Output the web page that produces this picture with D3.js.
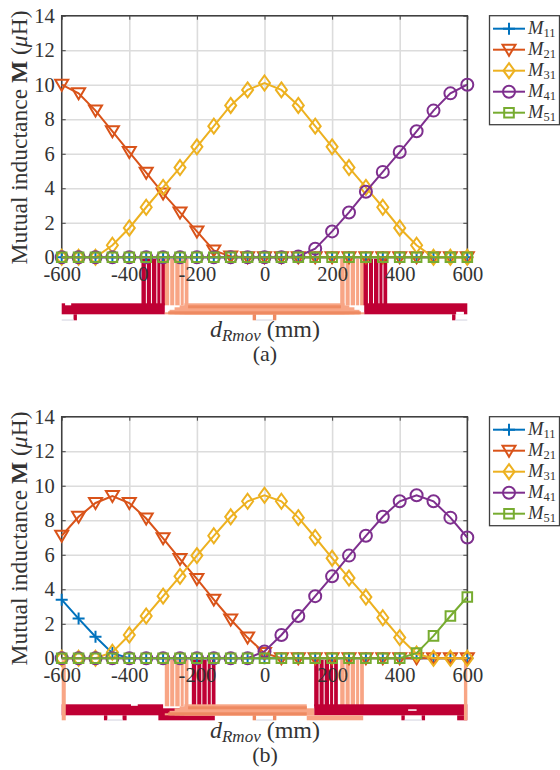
<!DOCTYPE html>
<html>
<head>
<meta charset="utf-8">
<script src="https://cdn.jsdelivr.net/npm/d3@7"></script>
<style>
html, body { margin: 0; padding: 0; background: #fff; }
svg { display: block; }
text { font-family: "Liberation Serif", serif; fill: #333; }
</style>
</head>
<body>
<div id="chart"></div>
<script>
const positions = [-600,-550,-500,-450,-400,-350,-300,-250,-200,-150,-100,-50,0,50,100,150,200,250,300,350,400,450,500,550,600]

const a11 = [0,0,0,0,0,0,0,0,0,0,0,0,0,0,0,0,0,0,0,0,0,0,0,0,0]
const a21 = [10,9.5,8.5,7.3,6.1,4.9,3.7,2.6,1.5,0.4,0.05,0,0,0,0,0,0,0,0,0,0,0,0,0,0]
const a31 = [0,0,0,0.7,1.7,2.9,4.05,5.2,6.4,7.6,8.8,9.7,10.1,9.7,8.8,7.6,6.4,5.2,4.05,2.9,1.7,0.7,0,0,0]
const a41 = [0,0,0,0,0,0,0,0,0,0,0,0,0,0,0.05,0.5,1.5,2.6,3.8,4.95,6.1,7.3,8.5,9.5,10]
const a51 = [0,0,0,0,0,0,0,0,0,0,0,0,0,0,0,0,0,0,0,0,0,0,0,0,0]

const b11 = [3.4,2.3,1.25,0.3,0,0,0,0,0,0,0,0,0,0,0,0,0,0,0,0,0,0,0,0,0]
const b21 = [7.1,8.2,9,9.4,9,8.1,6.95,5.75,4.6,3.4,2.25,1.2,0.3,0,0,0,0,0,0,0,0,0,0,0,0]
const b31 = [0,0,0,0.35,1.35,2.45,3.6,4.75,5.95,7.1,8.2,9.1,9.45,9.1,8.15,7,5.8,4.65,3.55,2.35,1.2,0.25,0,0,0]
const b41 = [0,0,0,0,0,0,0,0,0,0,0,0,0.4,1.35,2.45,3.6,4.75,5.95,7.1,8.2,9.1,9.45,9.1,8.15,7]
const b51 = [0,0,0,0,0,0,0,0,0,0,0,0,0,0,0,0,0,0,0,0,0,0.3,1.3,2.45,3.55]

const seriesNames = ['11','21','31','41','51']
const seriesColors = ['#0072BD','#D95319','#EDB120','#7E2F8E','#77AC30']
const seriesMarks = ['plus','tri','diamond','circle','square']

const xTicks = [-600,-400,-200,0,200,400,600]
const yTicks = [0,2,4,6,8,10,12,14]

// coil sketch under the axis: colour, x from, x to (mm), depth from, depth to
const crimson = '#BF0034'
const salmon = '#EE8A62'
const pale = '#F8A585'
const barSteps = [[0,13],[16,28],[31,44],[47,56],[59,70]]

const coilA = [
  [crimson,-600,-295,46,57],[crimson,295,600,46,57],
  [crimson,-565,-555,57,63],[crimson,555,565,57,63],
  [pale,-295,295,55,57],[pale,-281,281,52.5,57],[pale,-266,266,50,57],[pale,-251,251,48,57],[pale,-237,237,46,57],
  [salmon,-285,285,54,57],[salmon,-226,226,48,51],
  [salmon,-35,-25,57,63],[salmon,25,35,57,63],
  ['#e2e2ea',-600,-565,62,63.5],['#e2e2ea',565,600,62,63.5],['#e2e2ea',-25,25,62,63.5],
  ['#fff',-590,-572,45.5,48],['#fff',567,590,54.5,57.5]
]
const barsA = [[crimson,-364],[pale,-295],[pale,224],[crimson,293]]

const coilB = [
  [crimson,-600,-300,46,57],[crimson,-314,-147,50,62],
  [crimson,147,600,46,57],
  [pale,125,292,57,62],[pale,125,147,50,57],[crimson,570,600,57,62],
  [pale,-295,125,55,57],[pale,-281,125,52.5,57],[pale,-266,125,50,57],[pale,-251,125,48,57],[pale,-237,125,46,57],
  [salmon,-285,125,54,57],[salmon,-226,125,48,51],
  [crimson,-475,-465,57,62],[crimson,-420,-408,57,62],[crimson,405,415,57,62],[crimson,465,475,57,62],
  [salmon,-35,-25,57,62],[salmon,25,35,57,62],
  ['#e2e2ea',-465,-420,61,62.5],['#e2e2ea',415,465,61,62.5],['#e2e2ea',-25,25,61,62.5],
  [pale,-600,-588,2,62],[pale,590,600,2,62],
  ['#fff',-395,-375,45.5,47.5],['#fff',425,450,51,52.5]
]
const barsB = [[crimson,-215],[pale,-295],[crimson,147],[pale,224]]

const width = 560
const height = 770
const plotLeft = 61.7
const plotRight = 467.3

const svg = d3.select('#chart').append('svg')
  .attr('width', width)
  .attr('height', height)

const x = d3.scaleLinear().domain([-600, 600]).range([plotLeft, plotRight])

function drawMark(g, kind, color) {
  const sym = (t) => g.append('path').attr('d', t).attr('fill', 'none').attr('stroke', color).attr('stroke-width', 2)
  if (kind === 'plus') sym('M-6,0H6M0,-6V6')
  if (kind === 'tri') sym('M-6.5,-5H6.5L0,6Z')
  if (kind === 'diamond') sym('M0,-7.5L5.5,0L0,7.5L-5.5,0Z')
  if (kind === 'circle') sym('M6,0A6,6 0 1 1 -6,0A6,6 0 1 1 6,0Z')
  if (kind === 'square') sym('M-4.8,-4.8H4.8V4.8H-4.8Z')
}

function drawPanel(top, zero, values, coil, bars, letter) {
  const y = d3.scaleLinear().domain([0, 14]).range([zero, top])
  const depth = d3.scaleLinear().domain([0, 70]).range([zero, zero + 70])
  const panel = svg.append('g')

  // grid
  panel.append('g').attr('transform', `translate(${plotLeft},0)`)
    .call(d3.axisLeft(y).tickValues(yTicks).tickSize(-(plotRight - plotLeft)).tickFormat(''))
    .call(g => g.select('.domain').remove())
    .selectAll('line').attr('stroke', '#dcdcdc').attr('stroke-width', 1.6)
  panel.append('g').attr('transform', `translate(0,${zero})`)
    .call(d3.axisBottom(x).tickValues(xTicks).tickSize(-(zero - top)).tickFormat(''))
    .call(g => g.select('.domain').remove())
    .selectAll('line').attr('stroke', '#dcdcdc').attr('stroke-width', 1.6)

  // coil
  const rects = []
  bars.forEach(b => barSteps.forEach(s => rects.push([b[0], b[1] + s[0], b[1] + s[1], 1.5, 48])))
  coil.forEach(c => rects.push(c))
  panel.append('g').selectAll('rect')
    .data(rects)
    .enter()
    .append('rect')
    .attr('x', d => x(d[1]))
    .attr('width', d => x(d[2]) - x(d[1]))
    .attr('y', d => depth(d[3]))
    .attr('height', d => depth(d[4]) - depth(d[3]))
    .attr('fill', d => d[0])

  // box and ticks
  panel.append('path')
    .attr('d', `M${plotLeft},${zero}V${top}H${plotRight}V${zero}`)
    .attr('fill', 'none').attr('stroke', '#404040').attr('stroke-width', 1.5)
  panel.append('g').attr('transform', `translate(${plotLeft},0)`)
    .call(d3.axisLeft(y).tickValues(yTicks).tickSize(-4).tickPadding(7))
    .call(g => g.select('.domain').remove())
    .call(g => g.selectAll('line').attr('stroke', '#404040'))
    .call(g => g.selectAll('text').style('font-size', '20.5px').attr('font-family', null).attr('fill', '#333'))
  panel.append('g').attr('transform', `translate(${plotRight},0)`)
    .call(d3.axisRight(y).tickValues(yTicks).tickSize(-4).tickFormat(''))
    .call(g => g.select('.domain').remove())
    .selectAll('line').attr('stroke', '#404040')
  panel.append('g').attr('transform', `translate(0,${top})`)
    .call(d3.axisTop(x).tickValues(xTicks).tickSize(-4).tickFormat(''))
    .call(g => g.select('.domain').remove())
    .selectAll('line').attr('stroke', '#404040')
  panel.append('g').attr('transform', `translate(0,${zero})`)
    .call(d3.axisBottom(x).tickValues(xTicks).tickSize(0).tickPadding(9).tickFormat(d => String(d)))
    .call(g => g.select('.domain').remove())
    .call(g => g.selectAll('text').style('font-size', '20.5px').attr('font-family', null).attr('fill', '#333'))

  // series
  const line = d3.line().x((d, i) => x(positions[i])).y(d => y(d))
  values.forEach((v, i) => {
    panel.append('path').datum(v)
      .attr('d', line)
      .attr('fill', 'none')
      .attr('stroke', seriesColors[i])
      .attr('stroke-width', 2)
    v.forEach((d, j) => {
      const g = panel.append('g').attr('transform', `translate(${x(positions[j])},${y(d)})`)
      drawMark(g, seriesMarks[i], seriesColors[i])
    })
  })

  // labels
  const yLabel = panel.append('text')
    .attr('transform', `translate(27,${(top + zero) / 2 + 1}) rotate(-90)`)
    .attr('text-anchor', 'middle')
    .style('font-size', '23.5px')
  yLabel.append('tspan').text('Mutual inductance ')
  yLabel.append('tspan').attr('font-weight', 'bold').text('M')
  yLabel.append('tspan').text(' (')
  yLabel.append('tspan').attr('font-style', 'italic').text('μ')
  yLabel.append('tspan').text('H)')

  const xLabel = panel.append('text')
    .attr('x', 265)
    .attr('y', zero + 80)
    .attr('text-anchor', 'middle')
    .style('font-size', '24px')
  xLabel.append('tspan').attr('font-style', 'italic').text('d')
  xLabel.append('tspan').attr('font-style', 'italic').attr('dy', 4).style('font-size', '17px').text('Rmov')
  xLabel.append('tspan').attr('dy', -4).text(' (mm)')

  panel.append('text')
    .attr('x', 265)
    .attr('y', zero + 104)
    .attr('text-anchor', 'middle')
    .style('font-size', '22px')
    .text(letter)

  // legend
  const legend = panel.append('g')
  legend.append('rect')
    .attr('x', 489.5).attr('y', top)
    .attr('width', 70).attr('height', 109)
    .attr('fill', '#fff').attr('stroke', '#404040').attr('stroke-width', 1.3)
  seriesNames.forEach((name, i) => {
    const ly = top + 13 + i * 21
    legend.append('line')
      .attr('x1', 493).attr('x2', 525).attr('y1', ly).attr('y2', ly)
      .attr('stroke', seriesColors[i]).attr('stroke-width', 2)
    drawMark(legend.append('g').attr('transform', `translate(509,${ly})`), seriesMarks[i], seriesColors[i])
    const t = legend.append('text').attr('x', 528).attr('y', ly + 5).style('font-size', '18.5px')
    t.append('tspan').attr('font-style', 'italic').text('M')
    t.append('tspan').attr('dy', 3).style('font-size', '12.5px').text(name)
  })
}

drawPanel(15.7, 257.3, [a11, a21, a31, a41, a51], coilA, barsA, '(a)')
drawPanel(416.7, 658.3, [b11, b21, b31, b41, b51], coilB, barsB, '(b)')
</script>
</body>
</html>
